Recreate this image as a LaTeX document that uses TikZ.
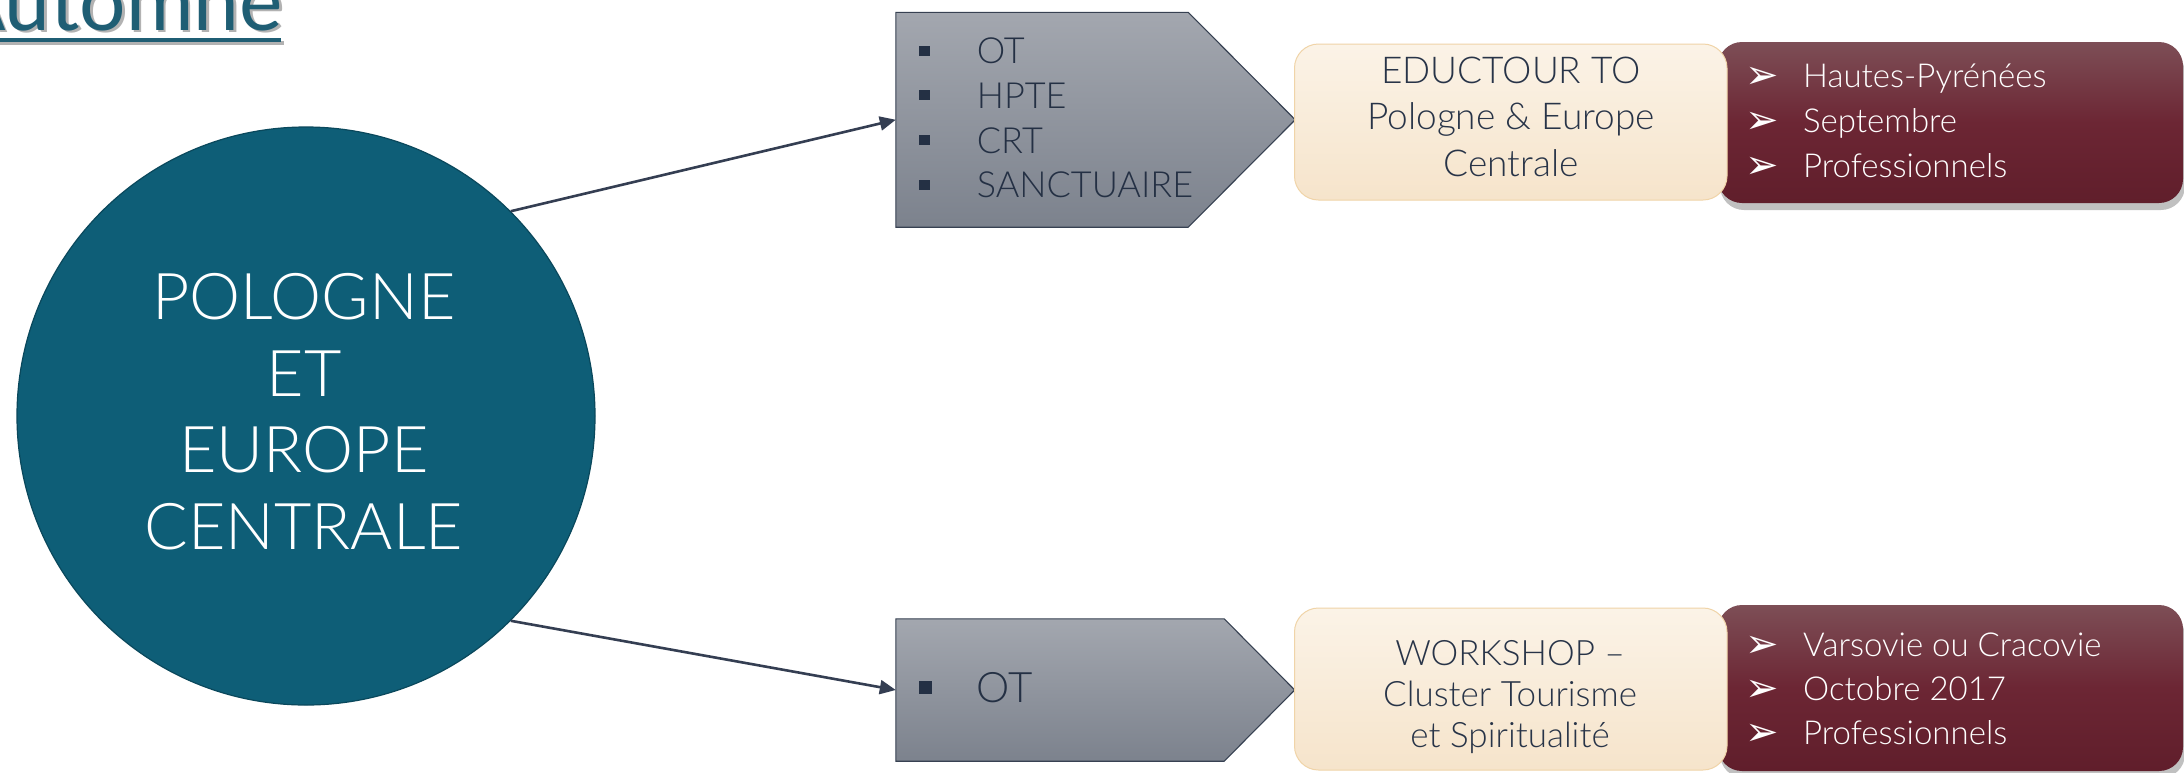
\documentclass[tikz,border=0pt]{standalone}
\usepackage{fontspec}
\setmainfont{Lato Light}
\newfontfamily\regf{Lato}
\newfontfamily\symf{DejaVu Sans}
\usetikzlibrary{calc,arrows.meta,shadows}
\definecolor{circfill}{RGB}{14,94,119}
\definecolor{circline}{RGB}{10,72,92}
\definecolor{titlecol}{RGB}{31,94,116}
\definecolor{conncol}{RGB}{52,62,82}
\definecolor{ptop}{RGB}{163,167,175}
\definecolor{pbot}{RGB}{124,130,141}
\definecolor{pline}{RGB}{55,65,82}
\definecolor{ptextcol}{RGB}{36,48,68}
\definecolor{ctop}{RGB}{251,243,231}
\definecolor{cbot}{RGB}{246,228,203}
\definecolor{cline}{RGB}{240,212,168}
\definecolor{ctextcol}{RGB}{40,52,72}
\definecolor{mtop}{RGB}{125,78,86}
\definecolor{mmid}{RGB}{108,38,52}
\definecolor{mbot}{RGB}{96,30,43}
\newcommand\pbulA{\makebox[57.7pt][l]{\rule[8pt]{11pt}{10pt}}}
\newcommand\pbulB{\makebox[57.7pt][l]{\rule[8.5pt]{12.7pt}{13pt}}}
\newcommand\marr{\makebox[58pt][l]{\symf\fontsize{40}{40}\selectfont\raisebox{-1pt}{➢}}}
\begin{document}
\begin{tikzpicture}[x=1pt,y=-1pt,
  conn/.style={draw=conncol, line width=2.6pt, -{Triangle[length=16pt,width=14pt]}},
  circ/.style={circle, fill=circfill, draw=circline, line width=1.2pt, minimum size=578pt, inner sep=0pt},
  pentbody/.style={rectangle, inner sep=0pt},
  pentfill/.style={top color=ptop, bottom color=pbot, draw=pline, line width=1.1pt},
  cream/.style={rectangle, rounded corners=24pt, top color=ctop, bottom color=cbot, draw=cline, line width=1pt, minimum width=432.5pt, inner sep=0pt},
  maroon/.style={rectangle, rounded corners=24pt, top color=mtop, bottom color=mbot, middle color=mmid, minimum width=465pt, inner sep=0pt, drop shadow={shadow xshift=2pt, shadow yshift=-7pt, opacity=0.35, fill=black!70}},
  circtext/.style={text=white, align=center, inner sep=0pt, font=\fontsize{64.5}{76.5}\selectfont},
  ptext/.style={text=ptextcol, align=left, inner sep=0pt, anchor=west},
  ctext/.style={text=ctextcol, align=center, inner sep=0pt},
  mtext/.style={text=white, align=left, inner sep=0pt, anchor=west, font=\fontsize{33}{45}\selectfont}
]
\useasboundingbox (0,0) rectangle (2184,772);
\fill[white] (0,0) rectangle (2184,772);

% title
\node[anchor=base east, text=black, opacity=0.3, inner sep=0pt, font=\regf\fontsize{82}{90}\selectfont] (titlesh) at (285.5,32.5) {Automne};
\draw[line width=4pt, black!30] (-3,42.5) -- (284,42.5);
\node[anchor=base east, text=titlecol, inner sep=0pt, font=\regf\fontsize{82}{90}\selectfont] (title) at (283,30) {Automne};
\draw[line width=4pt, titlecol] (-5,39.5) -- (281,39.5);

% circle
\node[circ] (c) at (306,416) {};
\node[circtext] (ct) at (304,411.5) {POLOGNE\\ET\\EUROPE\\CENTRALE};

% pentagons
\node[pentbody, minimum width=292pt, minimum height=214.5pt] (p1) at (1042,119.75) {};
\path[pentfill] (p1.north west) -- (p1.north east) -- ($(p1.east)+(107,0)$) -- (p1.south east) -- (p1.south west) -- cycle;
\node[ptext, font=\fontsize{36}{44.7}\selectfont] (p1t) at (919,118) {\pbulA OT\\\pbulA HPTE\\\pbulA CRT\\\pbulA SANCTUAIRE};
\node[pentbody, minimum width=328pt, minimum height=142pt] (p2) at (1060,690) {};
\path[pentfill] (p2.north west) -- (p2.north east) -- ($(p2.east)+(70.5,0)$) -- (p2.south east) -- (p2.south west) -- cycle;
\node[ptext, font=\fontsize{42}{50}\selectfont] (p2t) at (919,687.5) {\pbulB OT};

% maroon boxes
\node[maroon, minimum height=161pt] (m1) at (1950.5,122.5) {};
\node[mtext] (m1t) at (1745,121.5) {\marr Hautes-Pyrénées\\\marr Septembre\\\marr Professionnels};
\node[maroon, minimum height=166pt] (m2) at (1950.5,688) {};
\node[mtext, font=\fontsize{33}{44}\selectfont] (m2t) at (1745,689) {\marr Varsovie ou Cracovie\\\marr Octobre 2017\\\marr Professionnels};

% cream boxes
\node[cream, minimum height=156pt] (e1) at (1510.75,122) {};
\node[ctext, font=\fontsize{37}{46.5}\selectfont] (e1t) at (1511,116.5) {EDUCTOUR TO\\Pologne \& Europe\\Centrale};
\node[cream, minimum height=162pt] (e2) at (1510.75,689) {};
\node[ctext, font=\fontsize{35}{41}\selectfont] (e2t) at (1510,697) {WORKSHOP –\\Cluster Tourisme\\et Spiritualité};

% connectors
\draw[conn] (c.45) -- (p1.west);
\draw[conn] (c.-45) -- (p2.west);
\end{tikzpicture}
\end{document}
